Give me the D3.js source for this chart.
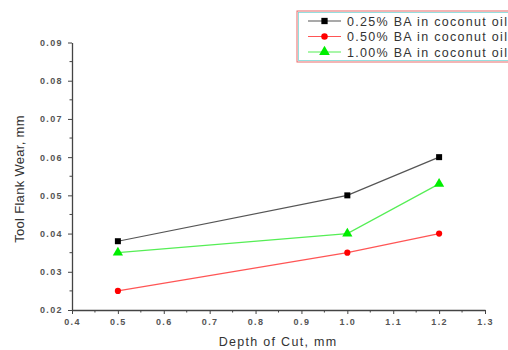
<!DOCTYPE html>
<html>
<head>
<meta charset="utf-8">
<script src="https://cdn.jsdelivr.net/npm/d3@7/dist/d3.min.js"></script>
<style>
  body { margin: 0; background: #fff; overflow: hidden; }
  svg { display: block; font-family: "Liberation Sans", Arial, sans-serif; }
</style>
</head>
<body>
<div id="chart"></div>
<script>
// dados
var depth = [0.5, 1.0, 1.2];
var wear025 = [0.038, 0.050, 0.060];
var wear050 = [0.025, 0.035, 0.040];
var wear100 = [0.035, 0.040, 0.053];
var seriesNames = ["0.25% BA in coconut oil", "0.50% BA in coconut oil", "1.00% BA in coconut oil"];
var xTicks = [0.4, 0.5, 0.6, 0.7, 0.8, 0.9, 1.0, 1.1, 1.2, 1.3];
var yTicks = [0.02, 0.03, 0.04, 0.05, 0.06, 0.07, 0.08, 0.09];

const width = 508, height = 350;

const series = [
    { name: seriesNames[0], values: wear025, line: "#555", fill: "#000", shape: d3.symbolSquare, size: 36 },
    { name: seriesNames[1], values: wear050, line: "#ff5555", fill: "#ff0000", shape: d3.symbolCircle, size: 30 },
    { name: seriesNames[2], values: wear100, line: "#55ee55", fill: "#00ee00", shape: d3.symbolTriangle, size: 45 }
];

var svg = d3.select('#chart')
    .append('svg')
    .attr('width', width)
    .attr('height', height);

const x = d3.scaleLinear().domain([0.4, 1.3]).range([72, 485]);
const y = d3.scaleLinear().domain([0.02, 0.09]).range([310, 42.5]);

// eixo x
const xAxis = svg.append('g')
    .attr('transform', 'translate(0,310)')
    .call(d3.axisBottom(x).tickValues(xTicks).tickFormat(d3.format('.1f')).tickSize(4).tickSizeOuter(0));
// minor ticks x
svg.append('g').selectAll('line')
    .data(d3.range(0.45, 1.3, 0.1))
    .join('line')
    .attr('x1', d => x(d)).attr('x2', d => x(d))
    .attr('y1', 310).attr('y2', 312.5)
    .attr('stroke', '#444');

// eixo y
const yAxis = svg.append('g')
    .attr('transform', 'translate(72,0)')
    .call(d3.axisLeft(y).tickValues(yTicks).tickFormat(d3.format('.2f')).tickSize(4).tickSizeOuter(0));
svg.append('g').selectAll('line')
    .data(d3.range(0.025, 0.09, 0.01))
    .join('line')
    .attr('x1', 72).attr('x2', 69.5)
    .attr('y1', d => y(d)).attr('y2', d => y(d))
    .attr('stroke', '#444');

[xAxis, yAxis].forEach(function (g) {
    g.select('.domain').attr('stroke', '#444').attr('stroke-width', 1.3);
    g.selectAll('.tick line').attr('stroke', '#444');
    g.selectAll('.tick text')
        .attr('fill', '#555')
        .attr('font-size', 9)
        .attr('font-weight', 'bold')
        .attr('letter-spacing', 1.4)
        .attr('font-family', '"Liberation Sans", Arial, sans-serif');
});
xAxis.selectAll('.tick text').attr('dy', '0.85em');
yAxis.selectAll('.tick text').attr('x', -9);

// titulos dos eixos
svg.append('text')
    .attr('x', 278).attr('y', 346)
    .attr('text-anchor', 'middle')
    .attr('font-size', 12.5)
    .attr('letter-spacing', 1.3)
    .attr('fill', '#333')
    .text('Depth of Cut, mm');

svg.append('text')
    .attr('transform', 'translate(24,179) rotate(-90)')
    .attr('text-anchor', 'middle')
    .attr('font-size', 13)
    .attr('letter-spacing', 0.3)
    .attr('fill', '#333')
    .text('Tool Flank Wear, mm');

// linhas e marcadores
const line = d3.line().x((d, i) => x(depth[i])).y(d => y(d));

series.forEach(function (s) {
    svg.append('path')
        .datum(s.values)
        .attr('fill', 'none')
        .attr('stroke', s.line)
        .attr('stroke-width', 1.2)
        .attr('d', line);
    svg.append('g').selectAll('path')
        .data(s.values)
        .join('path')
        .attr('transform', (d, i) => 'translate(' + x(depth[i]) + ',' + y(d) + ')')
        .attr('d', d3.symbol().type(s.shape).size(s.size))
        .attr('fill', s.fill);
});

// legenda
const legend = svg.append('g');
legend.append('rect')
    .attr('x', 297).attr('y', 11).attr('width', 260).attr('height', 51)
    .attr('fill', '#fff').attr('stroke', '#e86a6a').attr('stroke-width', 1);
legend.append('rect')
    .attr('x', 298.5).attr('y', 12.5).attr('width', 260).attr('height', 48)
    .attr('fill', 'none').attr('stroke', '#7ad8d8').attr('stroke-width', 0.8);

series.forEach(function (s, i) {
    const ly = 21 + i * 15.5;
    legend.append('line')
        .attr('x1', 308).attr('x2', 341).attr('y1', ly).attr('y2', ly)
        .attr('stroke', s.line).attr('stroke-width', 1.2);
    legend.append('path')
        .attr('transform', 'translate(324.5,' + ly + ')')
        .attr('d', d3.symbol().type(s.shape).size(s.size * 1.1))
        .attr('fill', s.fill);
    legend.append('text')
        .attr('x', 347).attr('y', ly + 4.5)
        .attr('font-size', 12.5)
        .attr('letter-spacing', 1.3)
        .attr('fill', '#333')
        .text(s.name);
});
</script>
</body>
</html>
